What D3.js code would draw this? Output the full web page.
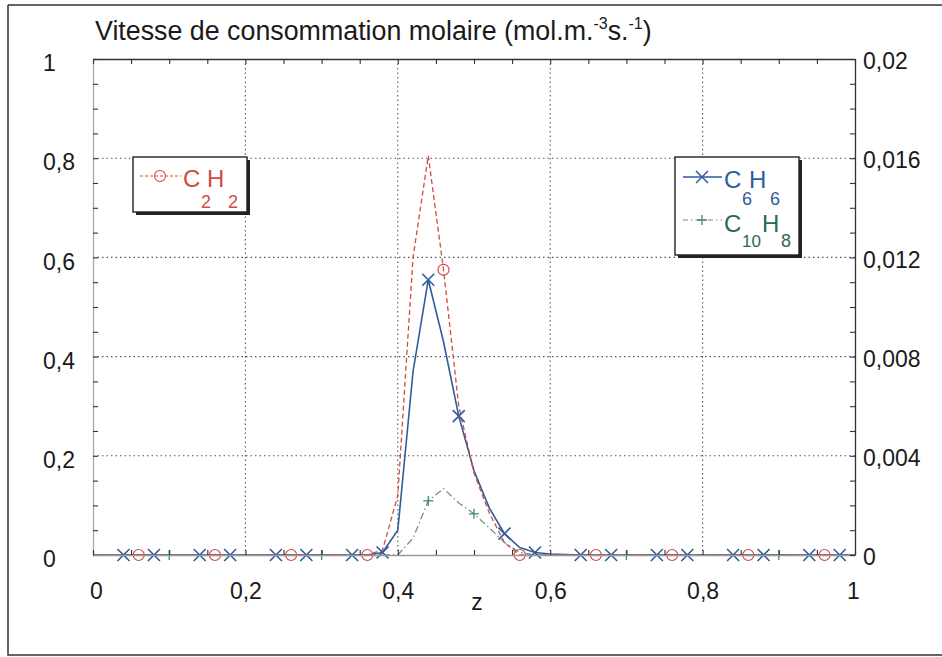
<!DOCTYPE html>
<html><head><meta charset="utf-8">
<script src="https://cdn.jsdelivr.net/npm/d3@7"></script>
<style>
body{margin:0;background:#fff}
svg{display:block}
text{font-family:"Liberation Sans",Arial,Helvetica,sans-serif}
</style>
</head><body>
<svg id="c" width="942" height="657"></svg>
<script>
// ---------- DATA ----------
const zGrid = [0,0.02,0.04,0.06,0.08,0.1,0.12,0.14,0.16,0.18,
  0.2,0.22,0.24,0.26,0.28,0.3,0.32,0.34,0.36,0.38,
  0.4,0.42,0.44,0.46,0.48,0.5,0.52,0.54,0.56,0.58,
  0.6,0.62,0.64,0.66,0.68,0.7,0.72,0.74,0.76,0.78,
  0.8,0.82,0.84,0.86,0.88,0.9,0.92,0.94,0.96,0.98,1];
// C2H2 (left axis)
const c2h2 = [0,0,0,0,0,0,0,0,0,0,
  0,0,0,0,0,0,0,0,0,0.01,
  0.12,0.60,0.805,0.575,0.30,0.165,0.085,0.025,0,0,
  0,0,0,0,0,0,0,0,0,0,
  0,0,0,0,0,0,0,0,0,0,0];
// C6H6 (right axis)
const c6h6 = [0,0,0,0,0,0,0,0,0,0,
  0,0,0,0,0,0,0,0,0,0.0001,
  0.001,0.0074,0.0111,0.0086,0.0056,0.0034,0.0019,0.00086,0.0003,0.0001,
  0.00004,0.00002,0,0,0,0,0,0,0,0,
  0,0,0,0,0,0,0,0,0,0,0];
// C10H8 (right axis)
const c10h8 = [0,0,0,0,0,0,0,0,0,0,
  0,0,0,0,0,0,0,0,0,0,
  0,0.00068,0.00218,0.00268,0.0021,0.00166,0.0011,0.0005,0.0001,0,
  0,0,0,0,0,0,0,0,0,0,
  0,0,0,0,0,0,0,0,0,0,0];
const c2h2Marks = [0.06,0.16,0.26,0.36,0.46,0.56,0.66,0.76,0.86,0.96];
const c6h6Marks = [0.04,0.08,0.14,0.18,0.24,0.28,0.34,0.38,0.44,0.48,0.54,0.58,0.64,0.68,0.74,0.78,0.84,0.88,0.94,0.98];
const c10h8Marks = [0.1,0.3,0.44,0.5,0.7,0.9];
const xTicks = [0,0.2,0.4,0.6,0.8,1];
const yLeftTicks = [0,0.2,0.4,0.6,0.8,1];
const yRightTicks = [0,0.004,0.008,0.012,0.016,0.02];
const xLabels = ["0","0,2","0,4","0,6","0,8","1"];
const yLeftLabels = ["0","0,2","0,4","0,6","0,8","1"];
const yRightLabels = ["0","0,004","0,008","0,012","0,016","0,02"];
const titleText = "Vitesse de consommation molaire (mol.m.";
const xTitle = "z";

// ---------- LAYOUT ----------
const L = 93, R = 855, T = 59, B = 555;
const svg = d3.select("#c");
const x = d3.scaleLinear().domain([0,1]).range([L,R]);
const yL = d3.scaleLinear().domain([0,1]).range([B,T]);
const yR = d3.scaleLinear().domain([0,0.02]).range([B,T]);

const colRed = "#d04c44", colBlue = "#2f5d9c", colGreen = "#6f9486", colGreenTxt = "#2d6a4c";
const font = '"Liberation Sans",Arial,Helvetica,sans-serif';

// outer frame
svg.append("path").attr("d","M8,5 L942,5 M8,5 L8,655 L942,655")
  .attr("fill","none").attr("stroke","#333").attr("stroke-width",1.5);

// title
const tt = svg.append("text").attr("x",95).attr("y",40).attr("font-size",26.8).attr("fill","#1a1a1a");
tt.append("tspan").text(titleText);
tt.append("tspan").attr("font-size",16).attr("dy",-11).text("-3");
tt.append("tspan").attr("dy",11).text("s.");
tt.append("tspan").attr("font-size",16).attr("dy",-11).text("-1");
tt.append("tspan").attr("dy",11).text(")");

// grid
const grid = svg.append("g").attr("stroke","#555").attr("stroke-width",1.1).attr("stroke-dasharray","1.5,3");
grid.selectAll("line.gx").data(xTicks.filter(d=>d>0&&d<1)).join("line")
  .attr("x1",d=>x(d)).attr("x2",d=>x(d)).attr("y1",T).attr("y2",B);
grid.selectAll("line.gy").data(yLeftTicks.filter(d=>d>0&&d<1)).join("line")
  .attr("x1",L).attr("x2",R).attr("y1",d=>yL(d)).attr("y2",d=>yL(d));

// series lines
const pts = (arr) => zGrid.map((z,i)=>[z,arr[i]]);
const lineL = d3.line().x(d=>x(d[0])).y(d=>yL(d[1]));
const lineR = d3.line().x(d=>x(d[0])).y(d=>yR(d[1]));
svg.append("path").attr("d",lineR(pts(c10h8))).attr("fill","none")
  .attr("stroke",colGreen).attr("stroke-width",1.3).attr("stroke-dasharray","7,3,1.5,3");
svg.append("path").attr("d",lineR(pts(c6h6))).attr("fill","none")
  .attr("stroke",colBlue).attr("stroke-width",1.6);
svg.append("path").attr("d",lineL(pts(c2h2))).attr("fill","none")
  .attr("stroke",colRed).attr("stroke-width",1.3).attr("stroke-dasharray","5,3");

const valAt = (arr,z) => arr[Math.round(z/0.02)];
// markers
svg.append("g").selectAll("circle").data(c2h2Marks).join("circle")
  .attr("cx",d=>x(d)).attr("cy",d=>yL(valAt(c2h2,d))).attr("r",5.5)
  .attr("fill","none").attr("stroke",colRed).attr("stroke-width",1.2);
const xs = 6;
svg.append("g").selectAll("path").data(c6h6Marks).join("path")
  .attr("d",d=>{const cx=x(d), cy=yR(valAt(c6h6,d));
    return `M${cx-xs},${cy-xs}L${cx+xs},${cy+xs}M${cx-xs},${cy+xs}L${cx+xs},${cy-xs}`;})
  .attr("stroke",colBlue).attr("stroke-width",1.6).attr("fill","none");
const ps = 5;
svg.append("g").selectAll("path").data(c10h8Marks).join("path")
  .attr("d",d=>{const cx=x(d), cy=yR(valAt(c10h8,d));
    return `M${cx-ps},${cy}L${cx+ps},${cy}M${cx},${cy-ps}L${cx},${cy+ps}`;})
  .attr("stroke","#3f8a63").attr("stroke-width",1.3).attr("fill","none");

// axes (frame + minor ticks)
const minor = d3.range(0,1.0001,0.05);
const axStyle = (g,col) => { g.select(".domain").attr("stroke",col).attr("stroke-width",1.3);
  g.selectAll(".tick line").attr("stroke","#333").attr("stroke-width",1.1); };
svg.append("g").attr("transform",`translate(${L},0)`)
  .call(d3.axisLeft(yL).tickValues(minor).tickSize(-5).tickSizeOuter(0).tickFormat(""))
  .call(g=>axStyle(g,"#aaa"));
svg.append("g").attr("transform",`translate(0,${B})`)
  .call(d3.axisBottom(x).tickValues(minor).tickSize(-5).tickSizeOuter(0).tickFormat(""))
  .call(g=>axStyle(g,"#999"));
svg.append("g").attr("transform",`translate(0,${T})`)
  .call(d3.axisTop(x).tickValues(minor).tickSize(-5).tickSizeOuter(0).tickFormat(""))
  .call(g=>axStyle(g,"#333"));
svg.append("g").attr("transform",`translate(${R},0)`)
  .call(d3.axisRight(yR).tickValues(d3.range(0,0.02001,0.001)).tickSize(-5).tickSizeOuter(0).tickFormat(""))
  .call(g=>axStyle(g,"#333"));

// tick labels
const lblL = svg.append("g").attr("transform",`translate(${L},0)`)
  .call(d3.axisLeft(yL).tickValues(yLeftTicks).tickSize(0).tickFormat((d,i)=>yLeftLabels[i]));
lblL.select(".domain").remove();
lblL.selectAll("text").attr("text-anchor","start").attr("x",43-L).attr("dy","0.38em")
  .attr("transform","translate(0,3)").attr("font-size",23).attr("font-family",font).attr("fill","#1a1a1a");
const lblR = svg.append("g").attr("transform",`translate(${R},0)`)
  .call(d3.axisRight(yR).tickValues(yRightTicks).tickSize(0).tickFormat((d,i)=>yRightLabels[i]));
lblR.select(".domain").remove();
lblR.selectAll("text").attr("text-anchor","start").attr("x",863-R).attr("dy","0.38em")
  .attr("transform","translate(0,1)").attr("font-size",23).attr("font-family",font).attr("fill","#1a1a1a");
const lblB = svg.append("g").attr("transform",`translate(0,${B})`)
  .call(d3.axisBottom(x).tickValues(xTicks).tickSize(0).tickFormat((d,i)=>xLabels[i]));
lblB.select(".domain").remove();
lblB.selectAll("text").attr("y",44).attr("dy",0).attr("font-size",23).attr("font-family",font).attr("fill","#1a1a1a")
  .attr("dx",(d,i)=>i===0?3:(i===5?-2:0));
svg.append("text").attr("x",477).attr("y",610).attr("text-anchor","middle")
  .attr("font-size",23).attr("fill","#1a1a1a").text(xTitle);

// legends
function box(x0,y0,w,h){
  svg.append("rect").attr("x",x0+3).attr("y",y0+3).attr("width",w).attr("height",h).attr("fill","#222");
  svg.append("rect").attr("x",x0).attr("y",y0).attr("width",w).attr("height",h)
    .attr("fill","#fff").attr("stroke","#222").attr("stroke-width",1.4);
}
function chem(parts,col){
  parts.forEach(p=>svg.append("text").attr("x",p[0]).attr("y",p[1]).attr("font-size",p[3])
    .attr("fill",col).text(p[2]));
}
box(133,157,114,55);
svg.append("line").attr("x1",140).attr("x2",181).attr("y1",176).attr("y2",176)
  .attr("stroke",colRed).attr("stroke-width",1.2).attr("stroke-dasharray","3,2");
svg.append("circle").attr("cx",160).attr("cy",176).attr("r",5.5).attr("fill","none").attr("stroke",colRed).attr("stroke-width",1.1);
chem([[183,187,"C",24],[201,208,"2",18],[207,187,"H",24],[228,208,"2",18]],colRed);

box(675,157,124,98);
svg.append("line").attr("x1",683).attr("x2",722).attr("y1",177).attr("y2",177)
  .attr("stroke",colBlue).attr("stroke-width",1.6);
svg.append("path").attr("d","M696,171L708,183M696,183L708,171").attr("stroke",colBlue).attr("stroke-width",1.5);
chem([[724,188,"C",24],[742,205,"6",18],[749,188,"H",24],[770,205,"6",18]],colBlue);
svg.append("line").attr("x1",683).attr("x2",722).attr("y1",220).attr("y2",220)
  .attr("stroke",colGreen).attr("stroke-width",1.2).attr("stroke-dasharray","5,3,1.5,3");
svg.append("path").attr("d","M697,220L707,220M702,215L702,225").attr("stroke","#3f8a63").attr("stroke-width",1.3);
chem([[724,232,"C",24],[742,247,"10",17],[762,232,"H",24],[781,247,"8",18]],colGreenTxt);
</script>
</body></html>
